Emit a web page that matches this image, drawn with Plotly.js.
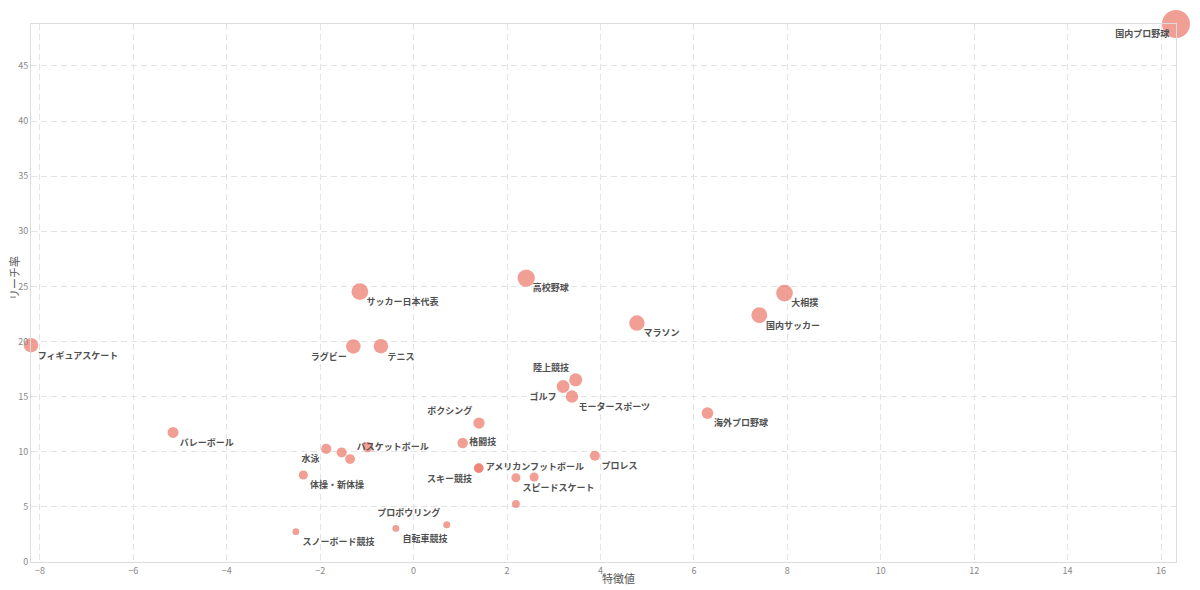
<!DOCTYPE html>
<html>
<head>
<meta charset="utf-8">
<script src="https://cdn.plot.ly/plotly-3.0.1.min.js"></script>
<style>html,body{margin:0;padding:0;background:#fff;}#chart{width:1200px;height:590px;}</style>
</head>
<body>
<div id="chart"></div>
<script>
// ---- data ----
const sports = [
  "国内プロ野球","高校野球","サッカー日本代表","大相撲","国内サッカー","マラソン",
  "フィギュアスケート","ラグビー","テニス","陸上競技","ゴルフ","モータースポーツ",
  "海外プロ野球","ボクシング","バレーボール","格闘技","バスケットボール","水泳",
  "","","体操・新体操","アメリカンフットボール","スキー競技","スピードスケート",
  "","プロレス","","プロボウリング","自転車競技","スノーボード競技"
];
const featureValue = [
  16.32, 2.41, -1.15, 7.94, 7.40, 4.78,
  -8.19, -1.29, -0.70, 3.47, 3.20, 3.39,
  6.29, 1.40, -5.15, 1.05, -1.36, -1.87,
  -1.54, -0.98, -2.36, 1.40, 1.39, 2.19,
  2.58, 3.88, 2.19, 0.71, -0.38, -2.52
];
const reachRate = [
  48.80, 25.75, 24.53, 24.39, 22.39, 21.67,
  19.67, 19.55, 19.58, 16.53, 15.92, 15.01,
  13.51, 12.60, 11.75, 10.79, 9.34, 10.27,
  9.94, 10.43, 7.89, 8.52, 8.50, 7.64,
  7.71, 9.64, 5.26, 3.38, 3.05, 2.75
];
const labelPositions = [
  "bottom left","bottom right","bottom right","bottom right","bottom right","bottom right",
  "bottom right","bottom left","bottom right","top left","bottom left","bottom right",
  "bottom right","top left","bottom right","middle right","top right","bottom left",
  "bottom right","bottom right","bottom right","middle right","bottom left","bottom right",
  "bottom right","bottom right","bottom right","top left","bottom right","bottom right"
];
const xTitle = '特徴値';
const yTitle = 'リーチ率';

const FONT = '"Noto Sans CJK JP", "Noto Sans", sans-serif';

const bubbles = {
  type: 'scatter',
  mode: 'markers',
  x: featureValue,
  y: reachRate,
  text: sports,
  hoverinfo: 'text',
  cliponaxis: false,
  marker: {
    size: reachRate.map(v => 5.5 + 0.46 * v),
    sizemode: 'diameter',
    color: 'rgb(236,126,112)',
    opacity: 0.75,
    line: {width: 0}
  },
  showlegend: false
};

const labels = {
  type: 'scatter',
  mode: 'markers+text',
  x: featureValue,
  y: reachRate,
  text: sports,
  textposition: labelPositions,
  textfont: {family: FONT, size: 9, color: '#505050', weight: 'bold'},
  marker: {size: 9, opacity: 0},
  hoverinfo: 'skip',
  cliponaxis: false,
  showlegend: false
};

const gridStyle = {
  showgrid: true,
  gridcolor: '#e3e3e3',
  gridwidth: 1,
  griddash: '6px,4px',
  zeroline: false,
  showline: true,
  linecolor: '#dcdcdc',
  linewidth: 1,
  mirror: true,
  ticks: '',
  tickfont: {family: FONT, size: 9, color: '#888'}
};

const titleFont = {family: FONT, size: 11, color: '#555'};

const layout = {
  width: 1200,
  height: 590,
  margin: {l: 31, r: 24, t: 24, b: 28},
  paper_bgcolor: '#fff',
  plot_bgcolor: '#fff',
  font: {family: FONT},
  xaxis: Object.assign({}, gridStyle, {
    range: [-8.19, 16.32],
    dtick: 2,
    tick0: 0
  }),
  yaxis: Object.assign({}, gridStyle, {
    range: [0, 48.8],
    dtick: 5,
    tick0: 0
  }),
  annotations: [
    {text: xTitle, xref: 'paper', yref: 'paper', x: 0.513, y: 0, yshift: -16,
     xanchor: 'center', yanchor: 'middle', showarrow: false, font: titleFont},
    {text: yTitle, xref: 'paper', yref: 'paper', x: 0, y: 0.528, xshift: -17,
     xanchor: 'center', yanchor: 'middle', textangle: -90, showarrow: false, font: titleFont}
  ]
};

Plotly.newPlot('chart', [bubbles, labels], layout, {displayModeBar: false, staticPlot: true});
</script>
</body>
</html>
